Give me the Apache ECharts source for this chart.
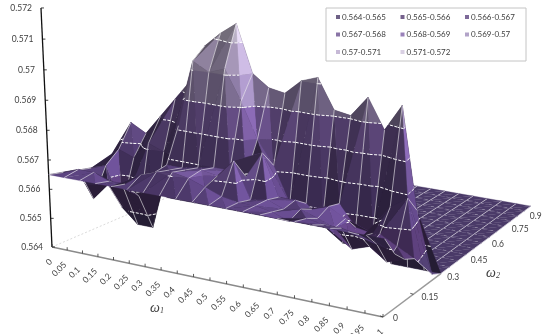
<!DOCTYPE html>
<html>
<head>
<meta charset="utf-8">
<style>
  html, body { margin: 0; padding: 0; background: #fff; }
  #chart { width: 542px; height: 334px; }
</style>
<script src="https://cdn.jsdelivr.net/npm/echarts@6/dist/echarts.min.js"></script>
</head>
<body>
<div id="chart"></div>
<script>
const omega1Labels = ['0','0.05','0.1','0.15','0.2','0.25','0.3','0.35','0.4','0.45','0.5','0.55','0.6','0.65','0.7','0.75','0.8','0.85','0.9','0.95','1'];
const omega2Labels = ['0','0.15','0.3','0.45','0.6','0.75','0.9'];
const zLabels = ['0.564','0.565','0.566','0.567','0.568','0.569','0.57','0.571','0.572'];
const bandNames = ['0.564-0.565','0.565-0.566','0.566-0.567','0.567-0.568','0.568-0.569','0.569-0.57','0.57-0.571','0.571-0.572'];
const bandColors = ['#4a3a68','#53396f','#5c4480','#6b5190','#8062a8','#9f8cba','#b8a8cc','#cfc4dc'];

// one list per omega1 value, omega2 runs 0, 0.05 ... 0.9
const surfaceValues = [
  [.5665,.5664,.5663,.5662,.5661,.5660,.5655,.5650,.5645,.564,.564,.564,.564,.564,.564,.564,.564,.564,.564],
  [.5665,.5666,.5654,.5664,.5668,.5676,.5655,.5650,.5645,.564,.564,.564,.564,.564,.564,.564,.564,.564,.564],
  [.5665,.5666,.5660,.5650,.5666,.5673,.5655,.5650,.5645,.564,.564,.564,.564,.564,.564,.564,.564,.564,.564],
  [.5665,.5664,.5660,.5645,.5672,.5680,.5655,.5650,.5645,.564,.564,.564,.564,.564,.564,.564,.564,.564,.564],
  [.5665,.5664,.5658,.5645,.5670,.5687,.5655,.5650,.5645,.564,.564,.564,.564,.564,.564,.564,.564,.564,.564],
  [.5665,.5668,.5667,.5668,.5680,.5694,.5655,.5650,.5645,.564,.564,.564,.564,.564,.564,.564,.564,.564,.564],
  [.5665,.5670,.5669,.5668,.5703,.5707,.5655,.5650,.5645,.564,.564,.564,.564,.564,.564,.564,.564,.564,.564],
  [.5665,.5671,.5670,.5669,.5700,.5712,.5655,.5650,.5645,.564,.564,.564,.564,.564,.564,.564,.564,.564,.564],
  [.5665,.5670,.5671,.5670,.5702,.5716,.5655,.5650,.5645,.564,.564,.564,.564,.564,.564,.564,.564,.564,.564],
  [.5665,.5668,.5670,.5670,.5692,.5700,.5655,.5650,.5645,.564,.564,.564,.564,.564,.564,.564,.564,.564,.564],
  [.5665,.5666,.5676,.5669,.5680,.5696,.5655,.5650,.5645,.564,.564,.564,.564,.564,.564,.564,.564,.564,.564],
  [.5665,.5665,.5664,.5678,.5672,.5695,.5655,.5650,.5645,.564,.564,.564,.564,.564,.564,.564,.564,.564,.564],
  [.5665,.5665,.5665,.5664,.5660,.5700,.5655,.5650,.5645,.564,.564,.564,.564,.564,.564,.564,.564,.564,.564],
  [.5665,.5664,.5663,.5664,.5661,.5702,.5648,.5650,.5645,.564,.564,.564,.564,.564,.564,.564,.564,.564,.564],
  [.5665,.5662,.5664,.5662,.5656,.5692,.5644,.5648,.5645,.564,.564,.564,.564,.564,.564,.564,.564,.564,.564],
  [.5665,.5664,.5662,.5664,.5663,.5691,.5644,.5650,.5645,.564,.564,.564,.564,.564,.564,.564,.564,.564,.564],
  [.5665,.5663,.5660,.5661,.5656,.5698,.5649,.5648,.5645,.564,.564,.564,.564,.564,.564,.564,.564,.564,.564],
  [.5665,.5663,.5654,.5656,.5655,.5688,.564,.564,.564,.564,.564,.564,.564,.564,.564,.564,.564,.564,.564],
  [.5665,.5662,.5656,.5658,.5665,.5697,.564,.564,.564,.564,.564,.564,.564,.564,.564,.564,.564,.564,.564],
  [.5665,.5660,.5652,.5655,.5669,.5663,.564,.564,.564,.564,.564,.564,.564,.564,.564,.564,.564,.564,.564],
  [.5665,.5658,.5654,.5652,.5647,.5642,.564,.564,.564,.564,.564,.564,.564,.564,.564,.564,.564,.564,.564]
];

const zMin = 0.564, zMax = 0.572;
const lastCol = surfaceValues.length - 1;
const lastRow = surfaceValues[0].length - 1;

// perspective camera fitted to the floor corners and the height axis
// u = omega1 0..1, v = omega2/0.9 0..1, h = (z-zMin)/(zMax-zMin) 0..1
function project(u, v, h) {
  const w = 1 - 0.087 * u + 0.262 * v - 0.046 * h;
  return [
    (52 + 297.7 * u + 274 * v - 12.9 * h) / w,
    (247 + 42.4 * u - 47.2 * v - 239.4 * h) / w
  ];
}
function vertex(i, j) {
  return [i / lastCol, j / lastRow, (surfaceValues[i][j] - zMin) / (zMax - zMin)];
}

function shadeColor(hex, f) {
  const n = parseInt(hex.slice(1), 16);
  const c = [n >> 16, (n >> 8) & 255, n & 255].map(x => Math.min(255, Math.round(x * f)));
  return 'rgb(' + c.join(',') + ')';
}

// keep the part of a triangle between two heights
function clipBand(poly, lo, hi) {
  const clip = (pts, keep, level) => {
    const out = [];
    pts.forEach((p, k) => {
      const q = pts[(k + 1) % pts.length];
      if (keep(p[2])) out.push(p);
      if (keep(p[2]) !== keep(q[2])) {
        const t = (level - p[2]) / (q[2] - p[2]);
        out.push([p[0] + t * (q[0] - p[0]), p[1] + t * (q[1] - p[1]), level]);
      }
    });
    return out;
  };
  let res = clip(poly, z => z >= lo, lo);
  if (res.length) res = clip(res, z => z <= hi, hi);
  return res;
}

function triangleShade(tri) {
  // world vectors scaled roughly to pixels
  const a = [(tri[1][0] - tri[0][0]) * 331, (tri[1][1] - tri[0][1]) * 186, (tri[1][2] - tri[0][2]) * 239];
  const b = [(tri[2][0] - tri[0][0]) * 331, (tri[2][1] - tri[0][1]) * 186, (tri[2][2] - tri[0][2]) * 239];
  let n = [a[1] * b[2] - a[2] * b[1], a[2] * b[0] - a[0] * b[2], a[0] * b[1] - a[1] * b[0]];
  const len = Math.hypot(n[0], n[1], n[2]) || 1;
  n = n.map(x => x / len * (n[2] < 0 ? -1 : 1));
  const dot = 0.75 * n[0] - 0.1 * n[1] + 0.65 * n[2];
  const p = tri.map(t => project(t[0], t[1], t[2]));
  const cross = (p[1][0] - p[0][0]) * (p[2][1] - p[0][1]) - (p[1][1] - p[0][1]) * (p[2][0] - p[0][0]);
  // the screen winding flips where the underside is what we see
  const under = (a[0] * b[1] - a[1] * b[0] > 0) === (cross > 0);
  return under ? 0.5 : 0.45 + 0.85 * Math.max(0, dot);
}

function renderCell(params, api) {
  const i = api.value(0), j = api.value(1);
  const toPts = list => list.map(p => api.coord(project(p[0], p[1], p[2])));
  const a = vertex(i, j), b = vertex(i + 1, j), c = vertex(i + 1, j + 1), d = vertex(i, j + 1);
  const children = [];
  // the split runs through the highest corner, so spikes come out as pyramids
  const top = Math.max(a[2], b[2], c[2], d[2]);
  const tris = (a[2] === top || c[2] === top) ? [[a, b, c], [a, c, d]] : [[a, b, d], [b, c, d]];
  tris.forEach(tri => {
    const f = triangleShade(tri);
    bandColors.forEach((color, k) => {
      const part = clipBand(tri, k / bandColors.length, (k + 1) / bandColors.length);
      if (part.length < 3) return;
      const fill = shadeColor(color, f);
      children.push({ type: 'polygon', shape: { points: toPts(part) }, style: { fill: fill, stroke: fill, lineWidth: 0.3 } });
    });
    // band borders
    for (let k = 1; k < bandColors.length; k++) {
      const lv = k / bandColors.length;
      const seg = [];
      tri.forEach((p, m) => {
        const q = tri[(m + 1) % 3];
        if ((p[2] - lv) * (q[2] - lv) < 0) {
          const t = (lv - p[2]) / (q[2] - p[2]);
          seg.push([p[0] + t * (q[0] - p[0]), p[1] + t * (q[1] - p[1]), lv]);
        }
      });
      if (seg.length === 2) {
        children.push({ type: 'polyline', shape: { points: toPts(seg) }, style: { stroke: '#fff', fill: null, lineWidth: 1, lineDash: [3, 1.5] } });
      }
    }
  });
  const meshStyle = { stroke: 'rgba(255,255,255,0.7)', fill: null, lineWidth: 0.8 };
  children.push({ type: 'polyline', shape: { points: toPts([a, d]) }, style: meshStyle });
  if (i + 1 === lastCol) children.push({ type: 'polyline', shape: { points: toPts([b, c]) }, style: meshStyle });
  // flat part shows the omega2 rows too
  if (a[2] < 0.01 && b[2] < 0.01) {
    children.push({ type: 'polyline', shape: { points: toPts([a, b]) }, style: { stroke: 'rgba(255,255,255,0.85)', fill: null, lineWidth: 0.8, lineDash: [3, 6] } });
  }
  return { type: 'group', children: children };
}

function renderFrame(params, api) {
  const line = (p, q, stroke, width, dash) => ({
    type: 'line',
    shape: { x1: api.coord(p)[0], y1: api.coord(p)[1], x2: api.coord(q)[0], y2: api.coord(q)[1] },
    style: { stroke: stroke, lineWidth: width, lineDash: dash || null }
  });
  const label = (p, text, opt) => ({
    type: 'text',
    x: api.coord(p)[0], y: api.coord(p)[1],
    rotation: opt.rotation || 0,
    style: { text: text, fill: '#404040', font: '8.5px Lato', align: opt.align, verticalAlign: 'middle' }
  });
  const children = [];
  children.push(line(project(0, 0, 0), project(0, 1, 0), '#d0d0d0', 0.8, [2, 2]));
  children.push(line(project(0, 0, 0), project(0, 0, 1), '#111', 1.3));
  children.push(line(project(0, 0, 0), project(1, 0, 0), '#8a8a8a', 1.5));
  children.push(line(project(1, 0, 0), project(1, 1 / 3, 0), '#9a9a9a', 1.5));
  zLabels.forEach((t, k) => {
    const h = k / (zLabels.length - 1), p = project(0, 0, h);
    children.push(line(p, [p[0] + 3, p[1]], '#111', 0.8));
    children.push(label([p[0] - 9, p[1]], t, { align: 'right' }));
  });
  omega1Labels.forEach((t, k) => {
    const u = k / (omega1Labels.length - 1), p = project(u, 0, 0);
    children.push(line(p, [p[0], p[1] - 3], '#333', 0.8));
    const off = t.length > 1 ? [-8, 19] : [-3, 15];
    children.push(label([p[0] + off[0], p[1] + off[1]], t, { align: 'center', rotation: Math.PI / 4 }));
  });
  omega2Labels.forEach((t, k) => {
    const v = k / (omega2Labels.length - 1), p = project(1, v, 0);
    if (v < 0.34) children.push(line(p, [p[0] - 3, p[1] - 1], '#333', 0.8));
    children.push(label([p[0] + 10 - 11 * v, p[1] + 1 + 9 * v], t, { align: 'left' }));
  });
  const title = (p, sub) => ({
    type: 'text', x: p[0], y: p[1],
    style: {
      text: '{w|ω}{s|' + sub + '}', align: 'center', verticalAlign: 'middle',
      rich: {
        w: { font: 'italic 14px "Liberation Serif"', fill: '#404040' },
        s: { font: 'italic 8px "Liberation Serif"', fill: '#404040', padding: [6, 0, 0, 0] }
      }
    }
  });
  children.push(title(api.coord([157, 308]), '1'));
  children.push(title(api.coord([493, 273]), '2'));
  return { type: 'group', children: children };
}

const cells = [];
for (let j = lastRow - 1; j >= 0; j--) {
  for (let i = 0; i < lastCol; i++) cells.push([i, j]);
}

const chart = echarts.init(document.getElementById('chart'), null, { renderer: 'canvas' });
chart.setOption({
  animation: false,
  backgroundColor: '#fff',
  grid: { left: 0, right: 0, top: 0, bottom: 0 },
  xAxis: { type: 'value', min: 0, max: 542, show: false },
  yAxis: { type: 'value', min: 0, max: 334, inverse: true, show: false },
  legend: {
    left: 326, top: 8, width: 196,
    padding: [4, 4, 4, 10],
    borderColor: '#c4c4c4', borderWidth: 1,
    itemWidth: 4, itemHeight: 4, itemGap: 7.5,
    icon: 'rect',
    textStyle: { fontFamily: 'Lato', fontSize: 8, color: '#404040', width: 51, padding: [0, 0, 0, -3], lineHeight: 10 },
    data: bandNames
  },
  series: [
    { type: 'custom', name: 'frame', silent: true, clip: false, data: [[0, 0]], renderItem: renderFrame, z: 1 },
    { type: 'custom', name: 'surface', silent: true, clip: false, data: cells, renderItem: renderCell, z: 2 }
  ].concat(bandNames.map((name, k) => ({
    type: 'scatter', name: name, data: [], itemStyle: { color: bandColors[k] }
  })))
});
</script>
</body>
</html>
